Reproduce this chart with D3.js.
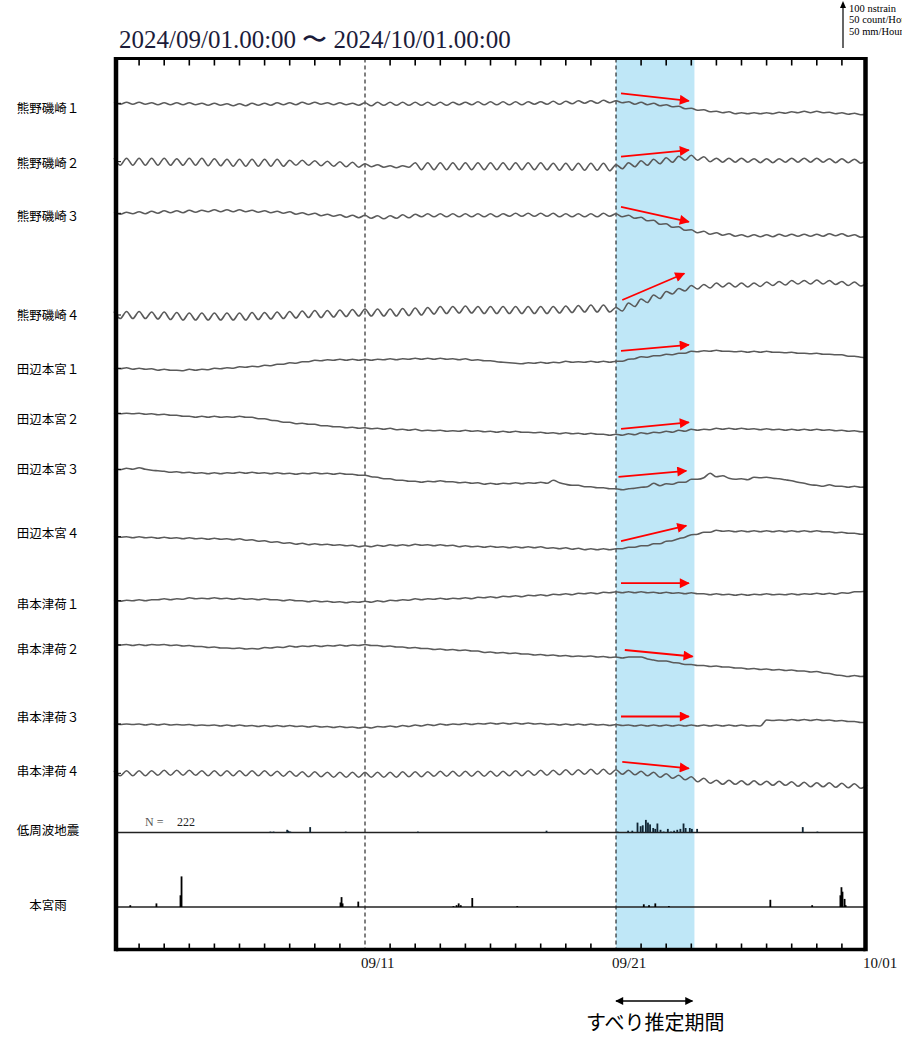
<!DOCTYPE html>
<html><head><meta charset="utf-8">
<script src="https://cdn.jsdelivr.net/npm/d3@7"></script>
<style>body{margin:0;background:#fff}svg{display:block}</style>
</head><body>
<svg id="c" width="902" height="1040"></svg>
<script>
// ---------------- data ----------------
const titleText = "2024/09/01.00:00 〜 2024/10/01.00:00";
const stations = ["熊野磯崎１","熊野磯崎２","熊野磯崎３","熊野磯崎４","田辺本宮１","田辺本宮２","田辺本宮３","田辺本宮４","串本津荷１","串本津荷２","串本津荷３","串本津荷４"];
const lfeLabel = "低周波地震";
const rainLabel = "本宮雨";
const tickLabels = ["09/11","09/21","10/01"];
const tickLabelDays = [10,20,30];
const legendLines = ["100 nstrain","50 count/Hour","50 mm/Hour"];
const lfeTotal = 222;
const slipLabel = "すべり推定期間";
const slipStartDay = 20, slipEndDay = 23.125;

// strain, nstrain, every 6 hours from 2024/09/01 00:00 (121 samples)
const k1 = [2,-2,2,-2, 2,-2,1,-3, 1,-3,1,-3, 1,-3,0,-4, 0,-4,-1,-5, -1,-5,0,-4, 0,-4,1,-3, 1,-3,2,-2, 2,-2,1,-3, 1,-3,0,-4,
 1,-5,2,-4, 2,-4,2,-4, 2,-4,2,-4, 2,-4,2,-3, 2,-3,3,-3, 3,-3,3,-3, 3,-3,3,-2, 3,-2,4,-2, 4,-1,5,0, 5,0,6,1,
 5,1,3,-2, 2,-3,0,-5, -3,-7,-6,-11, -10,-14,-13,-17, -16,-19,-17,-21, -19,-21,-19,-21, -19,-21,-18,-20, -17,-19,-16,-19, -16,-19,-18,-21, -19,-22,-20,-23, -22];
const k2 = [7,-7,7,-7, 7,-7,7,-7, 7,-7,6,-7, 7,-7,7,-8, 6,-8,5,-9, 5,-9,5,-9, 5,-9,5,-9, 3,-7,3,-7, 2,-8,1,-9, 0,-10,-1,-11,
 -4,-10,-6,-11, -8,-12,-8,-11, -2,-16,-2,-16, -2,-16,-2,-16, -2,-16,-2,-16, -2,-16,-2,-16, -2,-16,-2,-16, -2,-16,-3,-17, -3,-17,-3,-17, -3,-17,-3,-18,
 -6,-14,-2,-10, 2,-7,5,-4, 8,-1,11,3, 13,3,10,0, 7,-1,7,-1, 7,-1,6,-2, 6,-2,6,-1, 7,-1,7,-1, 7,-1,6,-2, 6,-2,5,-3, 4];
const k3 = [2,-2,2,-1, 3,-1,4,0, 5,1,5,1, 6,2,6,3, 7,3,7,3, 7,3,6,2, 5,1,4,0, 3,-2,1,-3, 0,-5,-2,-6, -3,-8,-4,-9,
 -4,-10,-5,-11, -5,-10,-3,-9, -2,-7,-1,-7, -1,-7,-1,-7, -1,-7,-1,-7, -1,-7,-1,-6, 0,-6,0,-6, 0,-6,0,-7, -1,-7,-1,-7, -1,-7,0,-6,
 -1,-7,-4,-10, -8,-15,-14,-22, -21,-28,-27,-34, -33,-39,-36,-42, -39,-44,-41,-46, -43,-47,-43,-47, -43,-47,-42,-46, -42,-46,-42,-46, -42,-46,-41,-45, -41,-46,-43,-48, -45];
const k4 = [7,-7,7,-7, 7,-7,6,-8, 6,-9,5,-10, 4,-10,4,-10, 4,-10,4,-10, 4,-10,5,-9, 5,-8,6,-7, 7,-6,8,-5, 9,-5,9,-4, 10,-3,11,-2,
 12,-2,12,-2, 12,-2,13,-1, 14,0,15,2, 17,3,17,4, 18,4,17,3, 17,3,17,3, 17,3,17,3, 17,3,17,4, 18,5,19,6, 20,6,20,6,
 15,8,24,17, 32,25,40,33, 47,42,53,48, 59,52,61,54, 64,56,64,56, 64,56,64,57, 66,59,67,60, 69,62,69,62, 70,62,69,61, 67,59,66,58, 64];
const t1 = [1,-1,1,-2, 0,-2,-1,-4, -2,-4,-4,-5, -2,-4,-2,-3, 0,-1,1,0, 3,2,4,3, 6,5,8,8, 11,10,13,13, 16,15,17,16, 18,16,18,16,
 18,16,18,17, 19,17,19,18, 20,18,20,18, 20,18,19,17, 19,16,17,15, 15,13,12,11, 10,9,11,10, 12,10,12,11, 14,12,13,12, 14,12,14,12,
 14,14,18,19, 23,22,25,25, 28,27,30,30, 34,33,35,34, 36,34,34,33, 34,32,34,32, 34,32,32,31, 32,30,30,29, 30,28,28,27, 27,24,24,22, 21];
const t2 = [1,-1,0,-1, 0,-2,-1,-3, -2,-4,-4,-6, -6,-8,-6,-8, -6,-8,-7,-8, -6,-8,-8,-11, -11,-14,-15,-18, -18,-21,-20,-22, -22,-25,-25,-27, -27,-29,-28,-30,
 -29,-31,-30,-32, -30,-33,-32,-34, -32,-35,-34,-35, -34,-36,-35,-36, -34,-36,-35,-37, -36,-38,-36,-38, -36,-38,-38,-39, -38,-40,-39,-41, -39,-41,-40,-42, -40,-42,-42,-44,
 -42,-44,-41,-43, -39,-41,-38,-39, -36,-38,-34,-36, -32,-34,-32,-33, -30,-32,-30,-32, -30,-32,-31,-33, -31,-33,-32,-34, -32,-34,-32,-34, -32,-34,-33,-35, -34,-36,-35,-37, -37];
const t3 = [1,-1,2,0, 3,0,-2,-3, -4,-6,-5,-7, -6,-8,-7,-9, -7,-9,-7,-8, -6,-8,-6,-8, -7,-9,-7,-9, -8,-10,-8,-9, -7,-9,-8,-10, -8,-10,-10,-12,
 -12,-15,-16,-19, -19,-22,-22,-24, -24,-26,-24,-25, -23,-25,-25,-27, -26,-28,-27,-30, -28,-30,-28,-29, -27,-29,-27,-28, -26,-28,-22,-27, -30,-32,-32,-35, -35,-37,-37,-39,
 -39,-41,-39,-38, -36,-35,-28,-33, -29,-30,-26,-26, -20,-20,-17,-8, -15,-13,-18,-20, -19,-21,-16,-17, -16,-18,-19,-21, -23,-26,-28,-31, -32,-34,-31,-34, -34,-36,-34,-36, -35];
const t4 = [1,-1,0,-2, 0,-2,-1,-3, -1,-3,-2,-4, -2,-4,-3,-5, -3,-5,-4,-6, -4,-7,-6,-9, -8,-11,-10,-13, -12,-15,-13,-16, -14,-16,-15,-17, -16,-18,-17,-20,
 -18,-20,-17,-19, -16,-18,-16,-18, -15,-17,-16,-18, -16,-18,-17,-20, -18,-20,-19,-21, -19,-21,-20,-22, -20,-22,-20,-22, -20,-23,-22,-24, -22,-25,-23,-26, -24,-26,-24,-26,
 -24,-24,-21,-21, -18,-18,-14,-14, -9,-8,-4,-1, 4,5,9,9, 13,11,12,10, 12,10,12,10, 12,10,12,10, 12,10,12,10, 12,10,10,8, 9,7,7,5, 5];
const s1 = [1,-1,1,0, 2,0,2,2, 4,2,4,3, 6,4,5,4, 6,4,5,3, 5,3,4,2, 4,2,2,0, 2,0,0,-2, 0,-2,-1,-3, -2,-4,-2,-3,
 -1,-3,0,-2, 1,0,2,1, 4,2,4,3, 5,3,5,4, 6,4,7,6, 8,6,9,8, 10,8,11,10, 12,10,13,12, 14,12,15,14, 16,14,17,16,
 18,16,18,16, 18,16,17,15, 17,15,16,14, 16,14,14,12, 14,12,13,11, 13,11,13,12, 14,12,13,12, 14,12,14,13, 15,13,15,13, 16,15,18,18, 20];
const s2 = [1,0,1,-1, 1,-1,1,0, 1,-1,0,-2, -1,-3,-3,-5, -4,-6,-6,-7, -6,-8,-7,-8, -5,-6,-4,-5, -2,-4,-2,-3, -1,-3,-1,-2, 0,-2,0,-1,
 1,-1,-1,-3, -2,-4,-4,-6, -5,-7,-7,-9, -8,-10,-9,-11, -10,-12,-12,-15, -14,-16,-15,-17, -16,-18,-18,-20, -19,-21,-20,-22, -21,-23,-22,-23, -22,-24,-23,-25,
 -24,-26,-24,-24, -24,-28,-30,-32, -32,-35,-36,-39, -39,-41,-41,-43, -42,-44,-44,-46, -46,-48,-47,-49, -48,-50,-49,-51, -50,-52,-52,-54, -53,-56,-57,-60, -61,-63,-61,-63, -62];
const s3 = [1,-1,0,-1, 0,-2,0,-2, 0,-2,-1,-2, -1,-3,-2,-3, -2,-4,-2,-4, -2,-4,-3,-5, -3,-5,-3,-5, -3,-5,-4,-6, -4,-6,-5,-7, -5,-7,-6,-8,
 -6,-8,-5,-6, -4,-6,-3,-5, -2,-4,-1,-3, 0,-2,0,-1, 1,-1,1,0, 2,0,2,0, 2,0,2,0, 1,-1,0,-2, 0,-2,0,-2, 0,-2,-1,-3,
 -1,-3,-2,-4, -2,-4,-2,-4, -2,-4,-2,-4, -2,-4,-2,-4, -2,-4,-2,-4, -2,-4,-3,-4, 8,7,8,7, 9,7,9,7, 9,7,8,6, 7,5,5,3, 3];
const s4 = [5,-5,5,-5, 5,-5,5,-4, 6,-4,6,-4, 6,-4,5,-5, 5,-5,5,-5, 5,-5,5,-5, 5,-5,4,-6, 4,-6,3,-7, 3,-7,2,-8, 2,-8,2,-8,
 2,-8,2,-8, 2,-8,3,-7, 3,-7,3,-6, 4,-6,4,-6, 4,-6,4,-6, 4,-6,4,-5, 5,-5,5,-4, 6,-4,6,-3, 7,-3,7,-2, 8,-2,8,-2,
 7,-2,6,-3, 4,-5,2,-8, -1,-10,-4,-13, -7,-17,-10,-20, -14,-22,-14,-22, -15,-23,-15,-23, -16,-24,-16,-24, -17,-26,-18,-27, -19,-27,-19,-28, -20,-29,-21,-30, -23];
const strainSeries = [k1,k2,k3,k4,t1,t2,t3,t4,s1,s2,s3,s4];

// red arrows: start/end day and start/end value (nstrain, relative to each trace)
const arrowStartDay = [20.2,20.2,20.2,20.25,20.2,20.2,20.1,20.2,20.2,20.35,20.2,20.25];
const arrowEndDay   = [22.9,22.9,22.9,22.72,22.9,22.9,22.8,22.8,22.9,23.05,22.9,22.9];
const arrowStartVal = [20,10,13,30,35,-31,-15,-9,35,-10,15,23];
const arrowEndVal   = [5,23,-17,83,47,-18,-3,22,35,-23,15,10];

// low-frequency earthquakes, count per hour (hour since 09/01 00:00)
const lfeHours  = [149,152,165,166,167,168,187,221,290,413,481,491,495,500,503,505,508,510,512,515,517,519,522,525,529,532,535,538,541,544,546,550,552,557,658,672];
const lfeCounts = [1,1,3,2,1,1,6,1,1,2,1,2,2,11,7,8,14,11,9,5,4,10,3,1,4,1,2,3,4,10,5,5,4,4,6,1];
// rain, mm per hour
const rainHours = [15,40,63,64,216,217,218,233,324,327,329,331,342,385,506,511,517,530,627,667,694,695,696,698,699];
const rainMm    = [2,4,13,34,5,11,4,6,1,2,4,2,10,1,3,2,4,1,8,2,13,22,17,9,2];

// ---------------- layout ----------------
const svg = d3.select("#c");
const frame = {l:116, r:865.5, t:58.5, b:949.5};
const x = d3.scaleLinear().domain([0,30]).range([114,867]);
const pxPerN = 0.5;          // px per nstrain
const traceBase = [103.3,161.7,213.3,315,368.3,413.3,469.3,536.7,600.7,645,724,773.3];
const labelY = [107,162,215,314,368,418,468,532,603,648,716,770];
const lfeBase = 832.5, rainBase = 907;
const cntScale = d3.scaleLinear().domain([0,50]).range([0,45]);
const serif = "'Liberation Serif','Times New Roman',serif";
const jp = "'Noto Sans CJK JP','Noto Sans',sans-serif";

// slip band
svg.append("rect").attr("x",x(slipStartDay)).attr("y",frame.t)
  .attr("width",x(slipEndDay)-x(slipStartDay)).attr("height",frame.b-frame.t)
  .attr("fill","#bfe7f7");

// dashed day lines
svg.selectAll("line.dash").data([10,20]).join("line")
  .attr("x1",d=>x(d)).attr("x2",d=>x(d)).attr("y1",frame.t).attr("y2",frame.b)
  .attr("stroke","#000").attr("stroke-width",1).attr("stroke-dasharray","4,3");

// day ticks (top & bottom)
const days = d3.range(1,30).filter(d=>d!==10 && d!==20);
svg.selectAll("line.tt").data(days).join("line")
  .attr("x1",d=>x(d)).attr("x2",d=>x(d)).attr("y1",frame.t).attr("y2",frame.t+7)
  .attr("stroke","#000").attr("stroke-width",1.6);
svg.selectAll("line.tb").data(days).join("line")
  .attr("x1",d=>x(d)).attr("x2",d=>x(d)).attr("y1",frame.b).attr("y2",frame.b-6)
  .attr("stroke","#000").attr("stroke-width",1.6);

// strain traces
const line = d3.line().x((v,i)=>x(i/4)).curve(d3.curveMonotoneX);
strainSeries.forEach((s,k)=>{
  const y = v => traceBase[k] - v*pxPerN;
  svg.append("path").datum(s)
    .attr("d", line.y(v=>y(v)))
    .attr("fill","none").attr("stroke","#5a5a5a").attr("stroke-width",1.6)
    .attr("stroke-linejoin","round");
});

// left small ticks
svg.selectAll("line.lt").data(traceBase).join("line")
  .attr("x1",frame.l).attr("x2",frame.l+5).attr("y1",d=>d).attr("y2",d=>d)
  .attr("stroke","#000").attr("stroke-width",1);

// red arrows
const defs = svg.append("defs");
defs.append("marker").attr("id","rh").attr("viewBox","0 0 10 10").attr("refX",9).attr("refY",5)
  .attr("markerWidth",12).attr("markerHeight",10).attr("markerUnits","userSpaceOnUse").attr("orient","auto")
  .append("path").attr("d","M0,0L10,5L0,10Z").attr("fill","#f00");
stations.forEach((s,k)=>{
  const y = v => traceBase[k] - v*pxPerN;
  svg.append("line")
    .attr("x1",x(arrowStartDay[k])).attr("y1",y(arrowStartVal[k]))
    .attr("x2",x(arrowEndDay[k])).attr("y2",y(arrowEndVal[k]))
    .attr("stroke","#f00").attr("stroke-width",1.8).attr("marker-end","url(#rh)");
});

// LFE panel
svg.append("line").attr("x1",frame.l).attr("x2",frame.r).attr("y1",lfeBase).attr("y2",lfeBase)
  .attr("stroke","#222").attr("stroke-width",1.5);
const hw = x(1/24)-x(0);
svg.selectAll("rect.lfe").data(lfeHours).join("rect")
  .attr("x",(h)=>x(h/24)-0.3).attr("width",Math.max(1.8,hw))
  .attr("y",(h,i)=>lfeBase-cntScale(lfeCounts[i])).attr("height",(h,i)=>cntScale(lfeCounts[i]))
  .attr("fill","#0f2433");
svg.append("text").attr("x",145).attr("y",826).attr("font-family",serif).attr("font-size",12)
  .attr("fill","#555").text("N =");
svg.append("text").attr("x",177).attr("y",826).attr("font-family",serif).attr("font-size",12)
  .attr("fill","#222").text(lfeTotal);

// Rain panel
svg.append("line").attr("x1",frame.l).attr("x2",frame.r).attr("y1",rainBase).attr("y2",rainBase)
  .attr("stroke","#222").attr("stroke-width",1.5);
svg.selectAll("rect.rain").data(rainHours).join("rect")
  .attr("x",(h)=>x(h/24)-0.3).attr("width",Math.max(1.8,hw))
  .attr("y",(h,i)=>rainBase-cntScale(rainMm[i])).attr("height",(h,i)=>cntScale(rainMm[i]))
  .attr("fill","#000");

// frame
const fr = svg.append("g").attr("stroke","#000");
fr.append("line").attr("x1",frame.l).attr("x2",frame.l).attr("y1",frame.t-1.5).attr("y2",frame.b+1.8).attr("stroke-width",4.5);
fr.append("line").attr("x1",frame.r).attr("x2",frame.r).attr("y1",frame.t-1.5).attr("y2",frame.b+1.8).attr("stroke-width",4.5);
fr.append("line").attr("x1",frame.l).attr("x2",frame.r).attr("y1",frame.t).attr("y2",frame.t).attr("stroke-width",3);
fr.append("line").attr("x1",frame.l).attr("x2",frame.r).attr("y1",frame.b).attr("y2",frame.b).attr("stroke-width",3.5);

// title
svg.append("text").attr("x",119).attr("y",48).attr("font-family",serif).attr("font-size",25)
  .attr("fill","#1c1c3a").text(titleText);

// legend (scale arrow + units)
svg.append("line").attr("x1",843).attr("x2",843).attr("y1",48).attr("y2",6)
  .attr("stroke","#000").attr("stroke-width",1.2);
svg.append("path").attr("d","M840,8L843,1L846,8Z").attr("fill","#000");
svg.selectAll("text.lg").data(legendLines).join("text")
  .attr("x",849).attr("y",(d,i)=>11.5+i*11.5).attr("font-family",serif).attr("font-size",10.5).attr("fill","#000")
  .attr("textLength",null)
  .text(d=>d);

// station labels
svg.selectAll("text.st").data(stations).join("text")
  .attr("x",48).attr("y",(d,i)=>labelY[i]).attr("text-anchor","middle").attr("dominant-baseline","central")
  .attr("font-family",jp).attr("font-size",12.5).attr("fill","#000").text(d=>d);
svg.append("text").attr("x",48).attr("y",829).attr("text-anchor","middle").attr("dominant-baseline","central")
  .attr("font-family",jp).attr("font-size",12.5).text(lfeLabel);
svg.append("text").attr("x",48).attr("y",904).attr("text-anchor","middle").attr("dominant-baseline","central")
  .attr("font-family",jp).attr("font-size",12.5).text(rainLabel);

// bottom tick labels
svg.selectAll("text.tl").data(tickLabels).join("text")
  .attr("x",(d,i)=>x(tickLabelDays[i])-4).attr("y",968).attr("font-family",serif).attr("font-size",15)
  .attr("fill","#111").text(d=>d);

// slip period annotation
defs.append("marker").attr("id","bh").attr("viewBox","0 0 10 10").attr("refX",9).attr("refY",5)
  .attr("markerWidth",10).attr("markerHeight",8).attr("markerUnits","userSpaceOnUse").attr("orient","auto-start-reverse")
  .append("path").attr("d","M0,0L10,5L0,10Z").attr("fill","#000");
svg.append("line").attr("x1",x(slipStartDay)).attr("x2",x(slipEndDay)-2).attr("y1",1001).attr("y2",1001)
  .attr("stroke","#000").attr("stroke-width",1.6).attr("marker-start","url(#bh)").attr("marker-end","url(#bh)");
svg.append("text").attr("x",(x(slipStartDay)+x(slipEndDay))/2).attr("y",1030).attr("text-anchor","middle")
  .attr("font-family",jp).attr("font-size",20).attr("fill","#000").text(slipLabel);
</script>
</body></html>
